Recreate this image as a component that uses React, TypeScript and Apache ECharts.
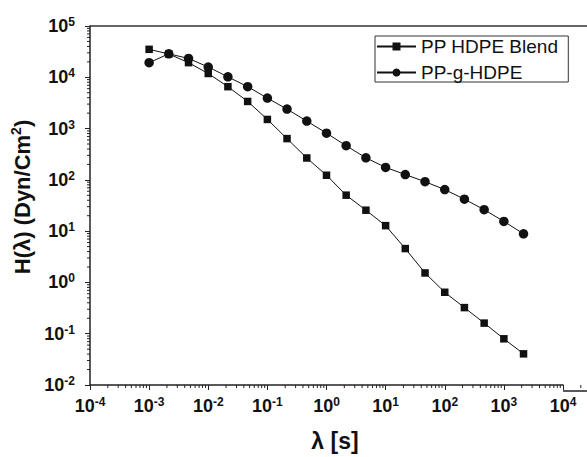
import React, { useEffect, useRef } from "react";
import * as echarts from "echarts";

const lambdaS = [0.001, 0.00215, 0.00464, 0.01, 0.0215, 0.0464, 0.1, 0.215, 0.464, 1, 2.15, 4.64, 10, 21.5, 46.4, 100, 215, 464, 1000, 2150];
const blend = [35100, 28500, 19300, 11850, 6560, 3380, 1507, 637, 267, 123, 50.3, 25.6, 12.8, 4.57, 1.53, 0.643, 0.323, 0.161, 0.0796, 0.0405];
const graft = [19300, 28700, 23300, 15850, 10200, 6560, 3930, 2395, 1397, 815, 463, 269, 175, 127, 92, 64.6, 42.1, 26.2, 15.5, 8.86];
const seriesNames = ["PP HDPE Blend", "PP-g-HDPE"];
const xMin = 1e-4, xMax = 1e4, yMin = 1e-2, yMax = 1e5;
const xDecades = [-4, -3, -2, -1, 0, 1, 2, 3, 4];
const yDecades = [-2, -1, 0, 1, 2, 3, 4];
const minorMult = [2, 3, 4, 5, 6, 7, 8, 9];

const FONT = "'Liberation Sans', Arial, sans-serif";

export default function App() {
  const ref = useRef<HTMLDivElement>(null);
  useEffect(() => {
    const chart = echarts.init(ref.current!, null, { renderer: "svg" });
    const minorX: number[][] = [];
    xDecades.forEach((d) => minorMult.forEach((m) => minorX.push([m * Math.pow(10, d), yMin])));
    const minorY: number[][] = [];
    yDecades.forEach((d) => minorMult.forEach((m) => minorY.push([xMin, m * Math.pow(10, d)])));
    const supFmt = (v: number) => `{b|10}{s|${Math.round(Math.log10(v))}}`;
    const rich = {
      b: { fontSize: 18, fontWeight: "bold", fontFamily: FONT, color: "#111", lineHeight: 20 },
      s: { fontSize: 12, fontWeight: "bold", fontFamily: FONT, color: "#111", lineHeight: 12, verticalAlign: "top" },
    };
    const lineCol = "#222";
    chart.setOption({
      animation: false,
      backgroundColor: "#fff",
      grid: { left: 90, right: 24, top: 26, bottom: 66, containLabel: false },
      legend: {
        orient: "vertical",
        left: 375,
        top: 36,
        data: seriesNames,
        itemWidth: 39,
        itemHeight: 10,
        itemGap: 7,
        padding: [1, 10, 0, 1],
        borderColor: "#333",
        borderWidth: 1,
        textStyle: { fontSize: 19, fontFamily: FONT, color: "#111", lineHeight: 17 },
      },
      xAxis: {
        type: "log",
        logBase: 10,
        min: xMin,
        max: xMax,
        splitNumber: 8,
        name: "λ [s]",
        nameLocation: "middle",
        nameGap: 44,
        nameTextStyle: { fontSize: 23, fontWeight: "bold", fontFamily: FONT, color: "#111", padding: [0, 0, 0, 17] },
        axisLine: { show: true, lineStyle: { color: lineCol, width: 1.5 } },
        axisTick: { show: true, length: 5, lineStyle: { color: lineCol, width: 1 } },
        splitLine: { show: false },
        axisLabel: { margin: 11, fontSize: 18, fontWeight: "bold", fontFamily: FONT, color: "#111", formatter: supFmt, rich },
      },
      yAxis: {
        type: "log",
        logBase: 10,
        min: yMin,
        max: yMax,
        splitNumber: 7,
        name: "{t|H(λ) (Dyn/Cm}{s|2}{t|)}",
        nameLocation: "middle",
        nameGap: 44,
        nameTextStyle: {
          fontSize: 22,
          fontWeight: "bold",
          fontFamily: FONT,
          padding: [0, 0, 0, 17],
          rich: {
            t: { fontSize: 22, fontWeight: "bold", fontFamily: FONT, color: "#111", lineHeight: 26 },
            s: { fontSize: 14, fontWeight: "bold", fontFamily: FONT, color: "#111", lineHeight: 14, verticalAlign: "top" },
          },
        },
        axisLine: { show: true, lineStyle: { color: lineCol, width: 1.5 } },
        axisTick: { show: true, length: 5, lineStyle: { color: lineCol, width: 1 } },
        splitLine: { show: false },
        axisLabel: { margin: 15, fontSize: 18, fontWeight: "bold", fontFamily: FONT, color: "#111", formatter: supFmt, rich },
      },
      graphic: [
        { type: "line", shape: { x1: 90, y1: 26, x2: 587, y2: 26 }, style: { stroke: "#333", lineWidth: 1.5 }, silent: true },
        { type: "line", shape: { x1: 563, y1: 391, x2: 587, y2: 391 }, style: { stroke: lineCol, lineWidth: 1.5 }, silent: true },
      ],
      series: [
        {
          name: seriesNames[0],
          type: "line",
          data: lambdaS.map((x, i) => [x, blend[i]]),
          symbol: "rect",
          symbolSize: 7.5,
          itemStyle: { color: "#111" },
          lineStyle: { color: "#111", width: 1 },
          z: 3,
        },
        {
          name: seriesNames[1],
          type: "line",
          data: lambdaS.map((x, i) => [x, graft[i]]),
          symbol: "circle",
          symbolSize: 9.5,
          itemStyle: { color: "#111" },
          lineStyle: { color: "#111", width: 1 },
          z: 4,
        },
        {
          type: "custom",
          silent: true,
          clip: false,
          data: minorX,
          renderItem: (params: any, api: any) => {
            const p = api.coord([api.value(0), api.value(1)]);
            return { type: "line", shape: { x1: p[0], y1: p[1], x2: p[0], y2: p[1] + 3 }, style: { stroke: lineCol, lineWidth: 1 } };
          },
        },
        {
          type: "custom",
          silent: true,
          clip: false,
          data: minorY,
          renderItem: (params: any, api: any) => {
            const p = api.coord([api.value(0), api.value(1)]);
            return { type: "line", shape: { x1: p[0], y1: p[1], x2: p[0] - 3, y2: p[1] }, style: { stroke: lineCol, lineWidth: 1 } };
          },
        },
      ],
    });
    return () => chart.dispose();
  }, []);
  return <div ref={ref} style={{ position: "fixed", left: 0, top: 0, width: 587, height: 457 }} />;
}
